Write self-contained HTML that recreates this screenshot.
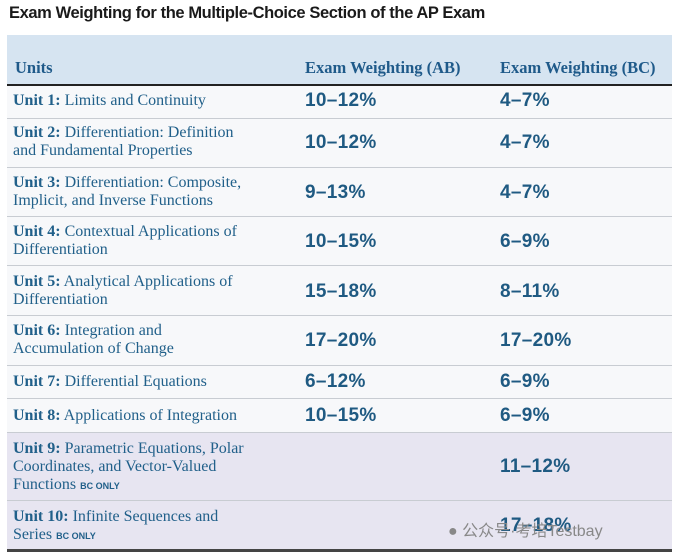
<!DOCTYPE html>
<html><head><meta charset="utf-8"><style>
body{margin:0;width:677px;height:553px;background:#fff;position:relative;overflow:hidden;font-family:"Liberation Serif",serif;color:#21608a}
.a{position:absolute}
.t{left:9px;top:4px;font:bold 16.5px "Liberation Sans",sans-serif;color:#1a1a1a;letter-spacing:-0.4px}
.hd{left:7px;top:35px;width:665px;height:50px;background:#d6e4f1}
.h{top:58px;font:bold 16.5px "Liberation Serif",serif;color:#1f5a8a}
.ln{left:7px;width:665px;height:1px;background:#c8ccd2}
.row{left:7px;width:665px;background:#f7f8fa}
.u{left:13px;font-size:16px;line-height:18px}
.u b{font-weight:bold}
.p{font:bold 19px "Liberation Sans",sans-serif;color:#1f5a82;letter-spacing:0.3px}
.s{font:bold 9px "Liberation Sans",sans-serif}
</style></head><body>
<div class="a t">Exam Weighting for the Multiple-Choice Section of the AP Exam</div>
<div class="a hd"></div>
<div class="a row" style="top:86px;height:346px"></div>
<div class="a" style="left:7px;top:432px;width:665px;height:118px;background:#e7e5f1"></div>
<div class="a h" style="left:15px">Units</div>
<div class="a h" style="left:305px">Exam Weighting (AB)</div>
<div class="a h" style="left:500px">Exam Weighting (BC)</div>
<div class="a" style="left:7px;top:84px;width:665px;height:2px;background:#222"></div>
<div class="a ln" style="top:118px"></div>
<div class="a ln" style="top:167px"></div>
<div class="a ln" style="top:216px"></div>
<div class="a ln" style="top:265px"></div>
<div class="a ln" style="top:315px"></div>
<div class="a ln" style="top:365px"></div>
<div class="a ln" style="top:398px"></div>
<div class="a ln" style="top:432px"></div>
<div class="a ln" style="top:500px"></div>
<div class="a" style="left:7px;top:549px;width:665px;height:3px;background:#444"></div>

<div class="a u" style="top:92px"><b>Unit 1:</b> Limits and Continuity</div>
<div class="a p" style="left:305px;top:90px">10–12%</div><div class="a p" style="left:500px;top:90px">4–7%</div>

<div class="a u" style="top:124px"><b>Unit 2:</b> Differentiation: Definition<br>and Fundamental Properties</div>
<div class="a p" style="left:305px;top:132px">10–12%</div><div class="a p" style="left:500px;top:132px">4–7%</div>

<div class="a u" style="top:174px"><b>Unit 3:</b> Differentiation: Composite,<br>Implicit, and Inverse Functions</div>
<div class="a p" style="left:305px;top:182px">9–13%</div><div class="a p" style="left:500px;top:182px">4–7%</div>

<div class="a u" style="top:223px"><b>Unit 4:</b> Contextual Applications of<br>Differentiation</div>
<div class="a p" style="left:305px;top:231px">10–15%</div><div class="a p" style="left:500px;top:231px">6–9%</div>

<div class="a u" style="top:273px"><b>Unit 5:</b> Analytical Applications of<br>Differentiation</div>
<div class="a p" style="left:305px;top:281px">15–18%</div><div class="a p" style="left:500px;top:281px">8–11%</div>

<div class="a u" style="top:322px"><b>Unit 6:</b> Integration and<br>Accumulation of Change</div>
<div class="a p" style="left:305px;top:330px">17–20%</div><div class="a p" style="left:500px;top:330px">17–20%</div>

<div class="a u" style="top:373px"><b>Unit 7:</b> Differential Equations</div>
<div class="a p" style="left:305px;top:371px">6–12%</div><div class="a p" style="left:500px;top:371px">6–9%</div>

<div class="a u" style="top:407px"><b>Unit 8:</b> Applications of Integration</div>
<div class="a p" style="left:305px;top:405px">10–15%</div><div class="a p" style="left:500px;top:405px">6–9%</div>

<div class="a u" style="top:440px"><b>Unit 9:</b> Parametric Equations, Polar<br>Coordinates, and Vector-Valued<br>Functions <span class="s">BC ONLY</span></div>
<div class="a p" style="left:500px;top:456px">11–12%</div>

<div class="a u" style="top:508px"><b>Unit 10:</b> Infinite Sequences and<br>Series <span class="s">BC ONLY</span></div>
<div class="a p" style="left:500px;top:515px">17–18%</div>
<div class="a" style="left:448px;top:517px;font:16px 'Liberation Sans','Noto Sans CJK SC',sans-serif;color:#888">● 公众号·考培Testbay</div>
</body></html>
